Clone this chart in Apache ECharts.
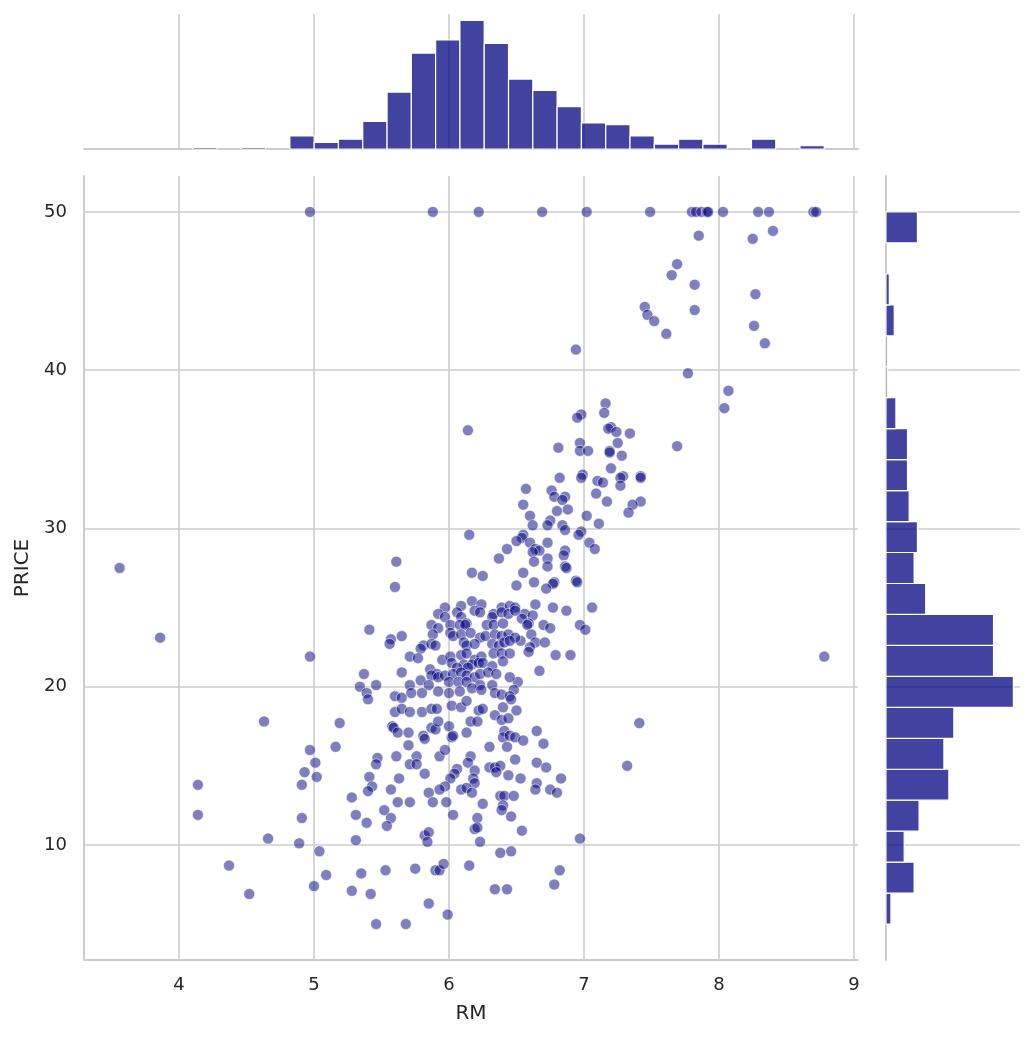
<!DOCTYPE html>
<html>
<head>
<meta charset="utf-8">
<title>RM vs PRICE</title>
<script src="https://cdn.jsdelivr.net/npm/echarts@6/dist/echarts.min.js"></script>
<style>
  html, body { margin: 0; padding: 0; background: #fff; }
  #chart { width: 1034px; height: 1038px; }
</style>
</head>
<body>
<div id="chart"></div>
<script>
// tick labels
var rmTicks = [4, 5, 6, 7, 8, 9];
var priceTicks = [10, 20, 30, 40, 50];

// marginal histogram of RM (29 bins)
var rmBinEdges = [3.561, 3.741, 3.921, 4.101, 4.281, 4.461, 4.641, 4.821, 5.001, 5.181,
                  5.361, 5.541, 5.721, 5.901, 6.081, 6.261, 6.441, 6.621, 6.801, 6.981,
                  7.161, 7.341, 7.521, 7.701, 7.881, 8.061, 8.241, 8.421, 8.600, 8.780];
var rmCounts = [0, 0, 0, 1, 0, 1, 0, 8, 4, 6, 17, 35, 59, 67, 79, 65, 43, 36, 26, 16,
                15, 8, 3, 6, 3, 0, 6, 0, 2];

// marginal histogram of PRICE (23 bins)
var priceBinEdges = [5, 6.957, 8.913, 10.870, 12.826, 14.783, 16.739, 18.696, 20.652, 22.609,
                     24.565, 26.522, 28.478, 30.435, 32.391, 34.348, 36.304, 38.261, 40.217,
                     42.174, 44.130, 46.087, 48.043, 50];
var priceCounts = [3, 17, 11, 20, 38, 35, 41, 77, 65, 65, 24, 17, 19, 14, 13, 13, 6, 1, 1, 5, 2, 0, 19];

// scatter points [RM, PRICE]
var pointsTop = [
  [4.97,50],[5.88,50],[6.22,50],[6.69,50],[7.02,50],[7.49,50],[7.80,50],[7.83,50],[7.87,50],[7.91,50],
  [7.92,50],[8.03,50],[8.29,50],[8.37,50],[8.70,50],[8.72,50],
  [7.85,48.5],[8.25,48.3],[8.40,48.8],[7.69,46.7],[7.65,46.0],[7.82,45.4],[8.27,44.8],[7.45,44.0],
  [7.47,43.5],[7.52,43.1],[7.82,43.8],[7.61,42.3],[8.26,42.8],[8.34,41.7],[6.94,41.3],[7.77,39.8],
  [8.07,38.7],[8.04,37.6],[7.69,35.2],[8.78,21.9],[7.41,17.7]
];
var pointsUpper = [
  [6.14,36.2],[7.16,37.9],[7.15,37.3],[6.98,37.2],[6.95,37.0],[7.20,36.4],[7.18,36.3],[7.24,36.1],
  [7.34,36.0],[7.25,35.4],[6.97,35.4],[6.97,34.9],[7.03,34.9],[6.81,35.1],[7.19,34.9],[7.19,34.8],
  [7.28,34.6],[7.20,33.8],[7.29,33.3],[7.27,33.2],[7.42,33.3],[7.42,33.2],[6.99,33.4],[6.98,33.2],
  [6.82,33.2],[7.10,33.0],[7.14,32.9],[7.27,32.7],[6.57,32.5],[6.76,32.4],[6.78,32.0],[6.86,32.0],
  [6.84,31.8],[7.09,32.2],[6.55,31.5],[6.88,31.2],[6.80,31.1],[7.17,31.7],[7.42,31.7],[7.36,31.5],
  [7.33,31.0],[6.60,30.8],[7.02,30.8],[6.75,30.5],[7.11,30.3],[6.62,30.2],[6.73,30.2],[6.84,30.2]
];
var pointsLeft = [
  [3.56,27.5],[3.86,23.1],[5.61,27.9],[5.60,26.3],[5.41,23.6],[5.57,23.0],[5.56,22.7],[4.97,21.9],
  [5.37,20.8],[5.46,20.1],[5.34,20.0],[5.39,19.6],[5.40,19.2],[5.60,19.4],[5.60,18.4],[5.58,17.5],
  [5.59,17.4],[5.62,17.1],[4.63,17.8],[5.19,17.7],[5.16,16.2],[4.97,16.0],[5.01,15.2],[4.93,14.6],
  [5.02,14.3],[4.91,13.8],[4.14,13.8],[4.14,11.9],[4.91,11.7],[5.47,15.5],[5.46,15.1],[5.41,14.3],
  [5.43,13.7],[5.40,13.4],[5.63,14.2],[5.57,13.5],[5.62,12.7],[5.28,13.0],[5.31,11.9],[5.39,11.4],
  [5.52,12.2],[5.57,11.7],[5.54,11.2],[5.31,10.3],[4.66,10.4],[4.89,10.1],[5.04,9.6],[4.37,8.7],
  [5.09,8.1],[5.35,8.2],[5.53,8.4],[5.00,7.4],[4.52,6.9],[5.28,7.1],[5.42,6.9],[5.46,5.0]
];
var pointsMid = [
  [6.15,29.6],[6.43,28.7],[6.37,28.1],[6.17,27.2],[6.25,27.0],[6.09,25.1],[6.17,25.4],[6.24,25.2],
  [6.39,25.0],[6.45,25.1],[5.97,25.0],[6.49,25.0],
  [6.86,29.9],[6.98,29.8],[6.96,29.6],[6.55,29.6],[6.54,29.4],[6.50,29.2],[6.60,29.1],[6.64,28.7],
  [6.67,28.6],[6.62,28.5],[6.63,27.9],[6.73,29.1],[6.86,28.6],[6.85,28.3],[7.04,29.1],[7.08,28.7],
  [6.73,28.1],[6.73,27.6],[6.86,27.6],[6.87,27.5],[6.55,27.2],[6.50,26.4],[6.63,26.6],[6.78,26.6],
  [6.77,26.5],[6.72,26.2],[6.94,26.7],[6.95,26.6],[6.64,25.2],
  [6.56,24.6],[6.62,24.5],[6.54,24.3],[6.59,24.0],[6.58,23.9],[6.61,23.3],[6.53,22.9],[6.64,22.8],
  [6.60,22.5],[6.59,22.2],[6.70,23.9],[6.75,23.7],[6.71,22.8],[6.79,22.0],[6.90,22.0],[6.67,21.0],
  [6.51,20.3],[6.97,23.9],[7.01,23.6],[6.77,25.0],[6.87,24.8],[7.06,25.0]
];
var pointsCore = [
  [5.92,24.6],[5.97,24.4],[6.06,24.7],[6.09,24.4],[6.13,24.0],[6.19,24.8],[6.23,24.7],[6.33,24.6],
  [6.32,24.4],[6.39,24.7],[6.44,24.6],[6.49,24.8],
  [5.87,23.9],[5.92,23.7],[6.01,23.9],[6.08,23.9],[6.12,23.9],[6.28,23.9],[6.33,23.9],[6.40,24.0],
  [5.65,23.2],[5.88,23.3],[6.01,23.4],[6.03,23.2],[6.09,23.3],[6.16,23.4],[6.23,23.1],[6.27,23.2],
  [6.34,23.3],[6.39,23.2],[6.44,23.3],[6.49,23.1],
  [5.81,22.6],[5.79,22.4],[5.87,22.7],[5.90,22.6],[6.11,22.8],[6.13,22.6],[6.19,22.7],[6.32,22.7],
  [6.37,22.6],[6.41,22.8],[6.45,22.9],
  [5.71,21.9],[5.77,21.8],[5.95,21.7],[6.01,21.9],[6.09,22.0],[6.13,22.1],[6.19,21.7],[6.24,21.9],
  [6.33,22.1],[6.39,22.1],[6.45,22.1],[6.40,21.6],
  [6.02,21.5],[6.11,21.4],[6.17,21.4],[6.22,21.5],[6.25,21.5],[6.32,21.3],[6.06,21.2],[6.14,21.2],
  [5.86,21.1],[5.91,20.8],[5.87,20.7],[5.92,20.6],[5.97,20.7],[6.03,20.8],[6.09,20.9],[6.13,20.7],
  [6.19,20.6],[6.23,20.8],[6.29,20.9],[6.35,20.8],[5.65,20.9],
  [5.71,20.1],[5.79,20.4],[5.85,20.1],[6.00,20.3],[6.07,20.3],[6.13,20.3],[6.23,20.1],[6.32,20.1],
  [6.45,20.6],[6.48,19.8],
  [5.72,19.6],[5.80,19.6],[5.92,19.7],[6.00,19.6],[6.08,19.7],[6.17,19.9],[6.24,19.8],[6.34,19.6],
  [6.39,19.5],[6.45,19.4],[5.65,19.3]
];
var pointsLow = [
  [5.65,18.6],[5.71,18.4],[5.80,18.4],[5.87,18.6],[5.91,18.6],[6.02,18.8],[6.09,18.7],[6.13,19.1],
  [6.22,18.5],[6.25,18.6],[6.34,18.2],[6.39,17.9],[6.44,18.0],[6.40,18.7],[6.50,18.5],[6.46,19.2],
  [5.70,17.1],[5.81,16.9],[5.82,16.7],[5.87,17.4],[5.90,17.3],[5.92,17.8],[6.00,17.5],[6.02,16.8],
  [6.03,16.9],[6.13,17.1],[6.16,17.8],[6.21,17.8],[6.41,17.2],[6.40,16.8],[6.45,16.9],[6.49,16.8],
  [6.55,16.6],[6.65,17.2],
  [5.61,15.6],[5.70,16.3],[5.76,15.6],[5.71,15.1],[5.76,15.1],[5.82,14.5],[5.93,15.6],[5.97,16.0],
  [6.16,15.6],[6.14,15.2],[6.19,14.7],[6.18,14.2],[6.19,13.9],[6.06,14.8],[6.04,14.5],[6.01,14.2],
  [5.97,13.7],[5.93,13.5],
  [6.30,16.2],[6.43,16.2],[6.49,15.4],[6.30,14.9],[6.34,14.9],[6.38,15.0],[6.35,14.6],[6.44,14.4],
  [6.53,14.2],[6.65,15.2],[6.72,14.9],[6.70,16.4],[6.65,13.9],[6.64,13.5],[6.75,13.5],[6.80,13.3],
  [6.83,14.2],
  [5.85,13.3],[5.88,12.7],[5.98,12.7],[6.09,13.5],[6.13,13.6],[6.17,13.3],[6.25,12.6],[5.71,12.7],
  [6.03,11.9],[6.21,11.7],[6.19,11.0],[6.21,11.1],[6.23,10.2],
  [6.38,13.1],[6.41,13.1],[6.48,13.1],[6.40,12.5],[6.39,12.2],[6.46,11.8],[6.54,10.9],[5.82,10.6],
  [5.85,10.8],[5.84,10.2],[6.97,10.4],[7.32,15.0],
  [5.75,8.5],[5.90,8.4],[5.93,8.4],[5.96,8.8],[6.15,8.7],[6.38,9.5],[6.46,9.6],[6.34,7.2],
  [6.43,7.2],[6.78,7.5],[6.82,8.4],[5.85,6.3],[5.99,5.6],[5.68,5.0]
];

var textColor = '#262626';
var gridColor = '#cccccc';
var barFill = 'rgba(0,0,128,0.74)';
var font = 'DejaVu Sans';

var scatterData = pointsTop.concat(pointsUpper, pointsLeft, pointsMid, pointsCore, pointsLow);

// histogram tables: [binStart, binEnd, count]
var rmHist = rmCounts.map(function (c, i) { return [rmBinEdges[i], rmBinEdges[i + 1], c]; });
var priceHist = priceCounts.map(function (c, i) { return [priceBinEdges[i], priceBinEdges[i + 1], c]; });

var rmMin = 3.296, rmMax = 9.03;
var priceMin = 2.73, priceMax = 52.27;

function splitStyle() {
  return { show: true, lineStyle: { color: gridColor, width: 1.6 } };
}

var chart = echarts.init(document.getElementById('chart'), null, { renderer: 'canvas' });

chart.setOption({
  backgroundColor: '#ffffff',
  animation: false,
  textStyle: { fontFamily: font },
  grid: [
    { left: 84, top: 176, width: 774, height: 784 },   // joint
    { left: 84, top: 14, width: 774, height: 135 },    // top marginal
    { left: 886, top: 176, width: 134, height: 784 }   // right marginal
  ],
  xAxis: [
    {
      gridIndex: 0, type: 'value', min: rmMin, max: rmMax,
      name: 'RM', nameLocation: 'middle', nameGap: 44,
      nameTextStyle: { color: textColor, fontSize: 20, fontFamily: font },
      axisLine: { show: true, onZero: false, lineStyle: { color: gridColor, width: 2 } },
      axisTick: { show: false, customValues: rmTicks },
      axisLabel: { customValues: rmTicks, color: textColor, fontSize: 18, margin: 16, fontFamily: font },
      splitLine: splitStyle()
    },
    {
      gridIndex: 1, type: 'value', min: rmMin, max: rmMax,
      axisLine: { show: true, onZero: false, lineStyle: { color: gridColor, width: 2 } },
      axisTick: { show: false, customValues: rmTicks },
      axisLabel: { show: false, customValues: rmTicks },
      splitLine: splitStyle()
    },
    {
      gridIndex: 2, type: 'value', min: 0, max: 81, show: false,
      splitLine: { show: false }
    }
  ],
  yAxis: [
    {
      gridIndex: 0, type: 'value', min: priceMin, max: priceMax,
      name: 'PRICE', nameLocation: 'middle', nameGap: 47,
      nameTextStyle: { color: textColor, fontSize: 20, fontFamily: font },
      axisLine: { show: true, onZero: false, lineStyle: { color: gridColor, width: 2 } },
      axisTick: { show: false, customValues: priceTicks },
      axisLabel: { customValues: priceTicks, color: textColor, fontSize: 18, margin: 17, fontFamily: font },
      splitLine: splitStyle()
    },
    {
      gridIndex: 1, type: 'value', min: 0, max: 83, show: false,
      splitLine: { show: false }
    },
    {
      gridIndex: 2, type: 'value', min: priceMin, max: priceMax,
      axisLine: { show: true, onZero: false, lineStyle: { color: gridColor, width: 2 } },
      axisTick: { show: false, customValues: priceTicks },
      axisLabel: { show: false, customValues: priceTicks },
      splitLine: splitStyle()
    }
  ],
  series: [
    {
      type: 'scatter',
      xAxisIndex: 0, yAxisIndex: 0,
      data: scatterData,
      symbolSize: 11,
      itemStyle: { color: 'navy', borderColor: '#ffffff', borderWidth: 1, opacity: 0.5 },
      emphasis: { disabled: true }
    },
    {
      type: 'custom',
      xAxisIndex: 1, yAxisIndex: 1,
      data: rmHist,
      encode: { x: [0, 1], y: 2 },
      renderItem: function (params, api) {
        if (!api.value(2)) return null;   // empty bin, nothing to draw
        var p0 = api.coord([api.value(0), api.value(2)]);
        var p1 = api.coord([api.value(1), 0]);
        return {
          type: 'rect',
          shape: { x: p0[0], y: p0[1], width: p1[0] - p0[0], height: p1[1] - p0[1] },
          style: { fill: barFill, stroke: '#ffffff', lineWidth: 1.2 }
        };
      }
    },
    {
      type: 'custom',
      xAxisIndex: 2, yAxisIndex: 2,
      data: priceHist,
      encode: { y: [0, 1], x: 2 },
      renderItem: function (params, api) {
        if (!api.value(2)) return null;
        var p0 = api.coord([0, api.value(1)]);
        var p1 = api.coord([api.value(2), api.value(0)]);
        return {
          type: 'rect',
          shape: { x: p0[0], y: p0[1], width: p1[0] - p0[0], height: p1[1] - p0[1] },
          style: { fill: barFill, stroke: '#ffffff', lineWidth: 1.2 }
        };
      }
    }
  ]
});

window.addEventListener('resize', function () {
  chart.resize();
});
</script>
</body>
</html>
